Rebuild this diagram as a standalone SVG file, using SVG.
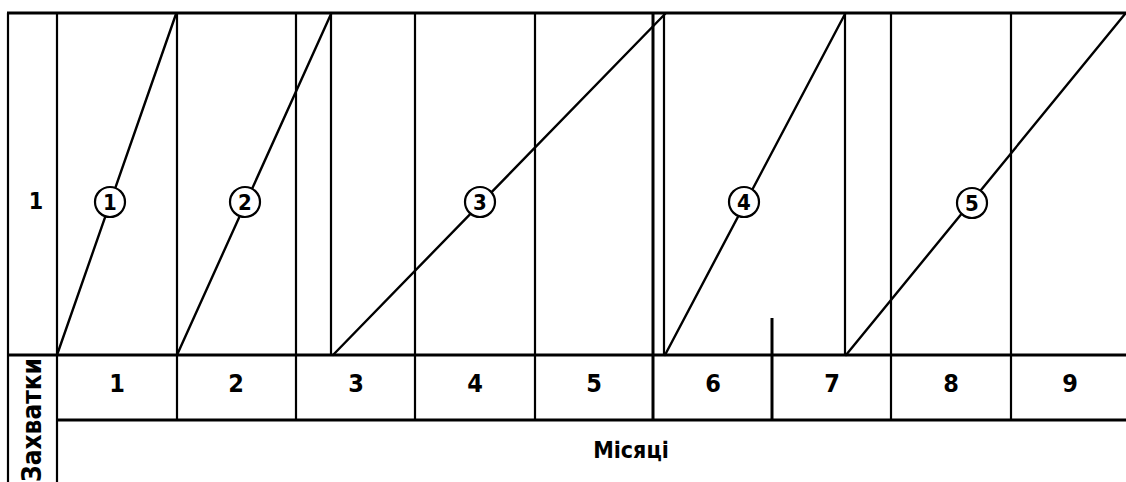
<svg xmlns="http://www.w3.org/2000/svg" width="1126" height="482" viewBox="0 0 1126 482">
<style>
.g{stroke:#000;stroke-width:2.2;fill:none}
.b{stroke:#000;stroke-width:3;fill:none}
.w{stroke:#000;stroke-width:2.4;fill:none;stroke-linecap:round}
.c{stroke:#000;stroke-width:2.2;fill:#fff}
text{font-family:"DejaVu Sans Condensed","DejaVu Sans",sans-serif;font-weight:bold;fill:#000}
.m{font-size:25px;text-anchor:middle}
.n{font-size:22px;text-anchor:middle}
</style>
<rect width="1126" height="482" fill="#fff"/>
<g id="grid">
<line class="b" x1="7" y1="13" x2="1126" y2="13"/>
<line class="g" x1="8" y1="13" x2="8" y2="482"/>
<line class="g" x1="57" y1="13" x2="57" y2="482"/>
<line class="b" x1="8" y1="355" x2="1126" y2="355"/>
<line class="b" x1="57" y1="420" x2="1126" y2="420"/>
<line class="g" x1="177" y1="13" x2="177" y2="420"/>
<line class="g" x1="296" y1="13" x2="296" y2="420"/>
<line class="g" x1="331" y1="13" x2="331" y2="355"/>
<line class="g" x1="415" y1="13" x2="415" y2="420"/>
<line class="g" x1="535" y1="13" x2="535" y2="420"/>
<line class="b" x1="653" y1="13" x2="653" y2="420"/>
<line class="g" x1="664" y1="13" x2="664" y2="355"/>
<line class="b" x1="772" y1="318" x2="772" y2="420"/>
<line class="g" x1="845" y1="13" x2="845" y2="355"/>
<line class="g" x1="891" y1="13" x2="891" y2="420"/>
<line class="g" x1="1011" y1="13" x2="1011" y2="420"/>
</g>
<g id="connectors">
<line class="w" x1="57" y1="355" x2="176" y2="14"/>
<line class="w" x1="177" y1="355" x2="331" y2="14"/>
<line class="w" x1="333" y1="355" x2="665" y2="14"/>
<line class="w" x1="665" y1="355" x2="845" y2="14"/>
<line class="w" x1="846" y1="355" x2="1125" y2="14"/>
</g>
<g id="task1"><circle class="c" cx="110" cy="202" r="15"/><text class="n" x="110" y="210">1</text></g>
<g id="task2"><circle class="c" cx="245" cy="202" r="15"/><text class="n" x="245" y="210">2</text></g>
<g id="task3"><circle class="c" cx="480" cy="202" r="15"/><text class="n" x="480" y="210">3</text></g>
<g id="task4"><circle class="c" cx="744" cy="202" r="15"/><text class="n" x="744" y="210">4</text></g>
<g id="task5"><circle class="c" cx="972" cy="203" r="15"/><text class="n" x="972" y="211">5</text></g>
<g id="row-label"><text class="m" x="36" y="209" style="font-size:23px">1</text></g>
<g id="months">
<text class="m" x="117" y="392">1</text>
<text class="m" x="236" y="392">2</text>
<text class="m" x="356" y="392">3</text>
<text class="m" x="475" y="392">4</text>
<text class="m" x="594" y="392">5</text>
<text class="m" x="713" y="392">6</text>
<text class="m" x="832" y="392">7</text>
<text class="m" x="951" y="392">8</text>
<text class="m" x="1070" y="392">9</text>
</g>
<g id="axis-label"><text x="631" y="458" style="font-size:23px;text-anchor:middle">Місяці</text></g>
<g id="side-label"><text transform="translate(41,358) rotate(-90)" style="font-size:26px;text-anchor:end">Захватки</text></g>
</svg>
